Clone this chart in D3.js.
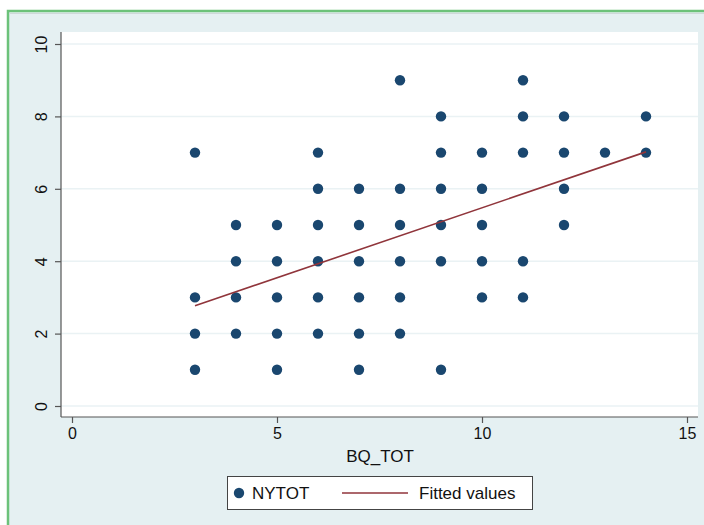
<!DOCTYPE html>
<html>
<head>
<meta charset="utf-8">
<script src="https://cdn.jsdelivr.net/npm/d3@7"></script>
<style>
  body { margin: 0; background: #fff; }
  svg { display: block; font-family: "Liberation Sans", Arial, sans-serif; }
</style>
</head>
<body>
<svg id="chart" width="704" height="525"></svg>
<script>
// BQ_TOT values and the NYTOT values seen at each one
const bqTot = [3, 4, 5, 6, 7, 8, 9, 10, 11, 12, 13, 14];
const nyTot = [
    [7, 3, 2, 1],
    [5, 4, 3, 2],
    [5, 4, 3, 2, 1],
    [7, 6, 5, 4, 3, 2],
    [6, 5, 4, 3, 2, 1],
    [9, 6, 5, 4, 3, 2],
    [8, 7, 6, 5, 4, 1],
    [7, 6, 5, 4, 3],
    [9, 8, 7, 4, 3],
    [8, 7, 6, 5],
    [7],
    [8, 7]
];
// Fitted line end points
const fitX = [3, 14];
const fitY = [2.77, 7.02];

const xTicks = [0, 5, 10, 15];
const yTicks = [0, 2, 4, 6, 8, 10];

const points = [];
bqTot.forEach((bq, i) => nyTot[i].forEach(ny => points.push({x: bq, y: ny})));

const svg = d3.select('#chart');

// Outer frame
svg.append('rect')
    .attr('x', 8).attr('y', 11)
    .attr('width', 720).attr('height', 540)
    .attr('fill', '#e5f0f2')
    .attr('stroke', '#6cc27a')
    .attr('stroke-width', 2.5);
svg.append('line')
    .attr('x1', 9.5).attr('x2', 704)
    .attr('y1', 13.5).attr('y2', 13.5)
    .attr('stroke', '#cfd8da').attr('stroke-width', 1);

// Plot region
const plot = {left: 61, right: 698, top: 32, bottom: 417};
svg.append('rect')
    .attr('x', plot.left).attr('y', plot.top)
    .attr('width', plot.right - plot.left)
    .attr('height', plot.bottom - plot.top)
    .attr('fill', '#fff');

const x = d3.scaleLinear().domain([0, 15]).range([72, 687]);
const y = d3.scaleLinear().domain([0, 10]).range([406, 44]);

// Gridlines
svg.append('g')
    .selectAll('line')
    .data(yTicks)
    .join('line')
    .attr('x1', plot.left).attr('x2', plot.right)
    .attr('y1', d => y(d)).attr('y2', d => y(d))
    .attr('stroke', '#eaf2f4')
    .attr('stroke-width', 1.5);

// Axes
const yAxis = svg.append('g')
    .attr('transform', `translate(${plot.left},0)`)
    .call(d3.axisLeft(y).tickValues(yTicks).tickSize(6).tickPadding(6));
yAxis.select('.domain').attr('d', `M0,${plot.top}V${plot.bottom}`);
yAxis.selectAll('.tick text')
    .attr('transform', 'rotate(-90)')
    .attr('x', 0).attr('y', -14)
    .attr('dy', 0)
    .attr('text-anchor', 'middle');

const xAxis = svg.append('g')
    .attr('transform', `translate(0,${plot.bottom})`)
    .call(d3.axisBottom(x).tickValues(xTicks).tickSize(6).tickPadding(5));
xAxis.select('.domain').attr('d', `M${plot.left},0H${plot.right}`);

svg.selectAll('.domain').attr('stroke', '#555').attr('stroke-width', 1.2);
svg.selectAll('.tick line').attr('stroke', '#555').attr('stroke-width', 1.2);
svg.selectAll('.tick text')
    .attr('fill', '#111')
    .style('font-size', '16px')
    .style('font-family', '"Liberation Sans", Arial, sans-serif');

// Axis title
svg.append('text')
    .attr('x', 380).attr('y', 462)
    .attr('text-anchor', 'middle')
    .attr('fill', '#111')
    .style('font-size', '17px')
    .text('BQ_TOT');

// Scatter points
svg.append('g')
    .selectAll('circle')
    .data(points)
    .join('circle')
    .attr('cx', d => x(d.x))
    .attr('cy', d => y(d.y))
    .attr('r', 5.2)
    .attr('fill', '#1a476f');

// Fitted line
svg.append('line')
    .attr('x1', x(fitX[0])).attr('y1', y(fitY[0]))
    .attr('x2', x(fitX[1])).attr('y2', y(fitY[1]))
    .attr('stroke', '#90353b')
    .attr('stroke-width', 1.6);

// Legend
const legend = svg.append('g');
legend.append('rect')
    .attr('x', 227.5).attr('y', 476.5)
    .attr('width', 305).attr('height', 33)
    .attr('fill', '#fff')
    .attr('stroke', '#444')
    .attr('stroke-width', 1);
legend.append('circle')
    .attr('cx', 239).attr('cy', 493)
    .attr('r', 5.2)
    .attr('fill', '#1a476f');
legend.append('text')
    .attr('x', 252).attr('y', 499)
    .attr('fill', '#111')
    .style('font-size', '17px')
    .text('NYTOT');
legend.append('line')
    .attr('x1', 342).attr('x2', 408)
    .attr('y1', 493).attr('y2', 493)
    .attr('stroke', '#90353b')
    .attr('stroke-width', 1.6);
legend.append('text')
    .attr('x', 419).attr('y', 499)
    .attr('fill', '#111')
    .style('font-size', '17px')
    .text('Fitted values');
</script>
</body>
</html>
